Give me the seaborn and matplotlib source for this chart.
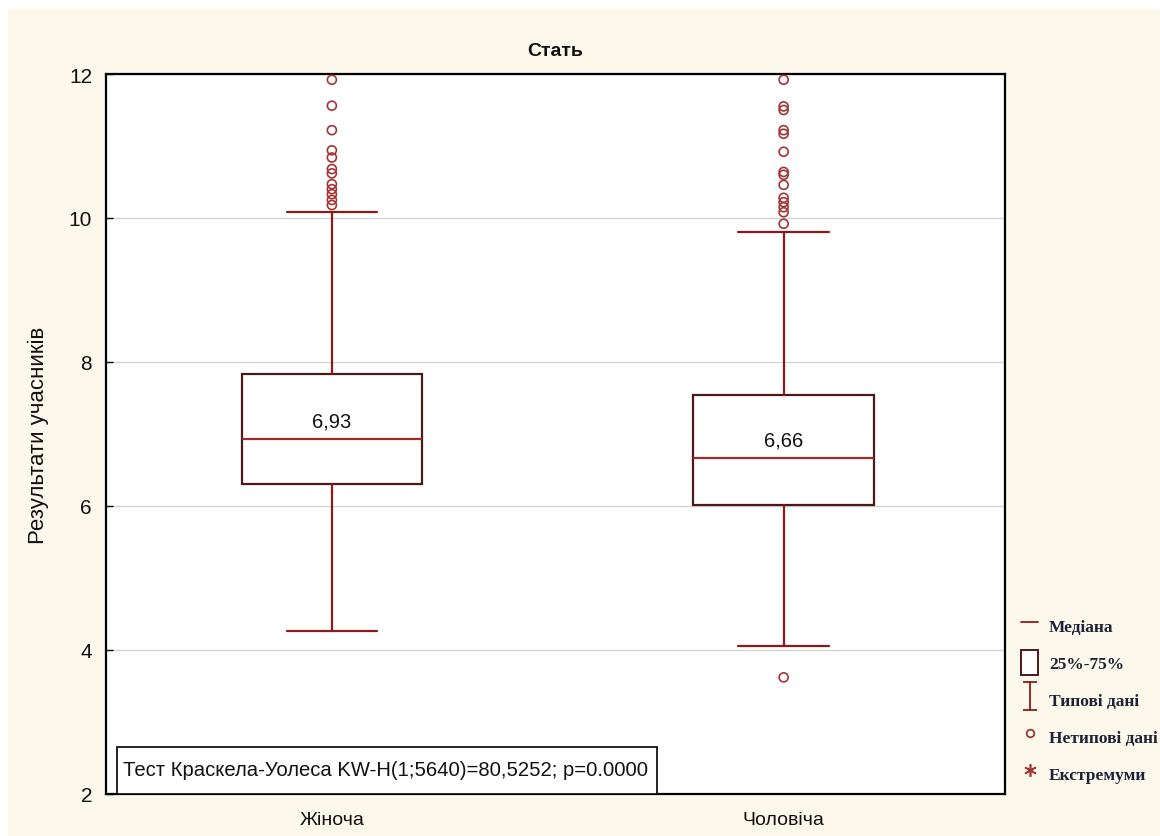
import numpy as np
import pandas as pd
import matplotlib
matplotlib.use('Agg')
import matplotlib.pyplot as plt
from matplotlib.lines import Line2D
from matplotlib.patches import Patch, Rectangle
from matplotlib.path import Path
import seaborn as sns

# ---------------- data ----------------
groups = ['Жіноча', 'Чоловіча']
q1 = [6.30, 6.01]
medians = [6.93, 6.66]
q3 = [7.83, 7.54]
whisker_low = [4.27, 4.05]
whisker_high = [10.08, 9.81]
outliers_f = [11.92, 11.56, 11.22, 10.94, 10.84, 10.68, 10.62, 10.47, 10.40, 10.33, 10.25, 10.18]
outliers_m = [11.92, 11.55, 11.50, 11.22, 11.17, 10.92, 10.64, 10.60, 10.46, 10.28, 10.22,
              10.15, 10.08, 9.92, 3.62]
yticks = [2, 4, 6, 8, 10, 12]
title = 'Стать'
ylabel = 'Результати учасників'
test_text = 'Тест Краскела-Уолеса KW-H(1;5640)=80,5252; p=0.0000'
legend_labels = ['Медіана', '25%-75%', 'Типові дані', 'Нетипові дані', 'Екстремуми']

# ---------------- style ----------------
CREAM = '#FDF8EC'
BOX_C = '#4d1818'
MED_C = '#9e2a2a'
WH_C = '#8b1a1a'
OUT_C = '#a33535'

sns.set_theme(style='white')
SANS = ['Liberation Sans', 'DejaVu Sans']
plt.rcParams['font.family'] = SANS

W, H = 1160, 837
fig = plt.figure(figsize=(W / 100, H / 100), dpi=100, facecolor='white')
fig.patches.append(Rectangle((8 / W, 0), 1, 1 - 10 / H, transform=fig.transFigure,
                             facecolor=CREAM, edgecolor='none', zorder=-10))
ax = fig.add_axes([106 / W, 1 - 795 / H, 899 / W, 720 / H])
ax.set_facecolor('white')

# outliers through seaborn
out_df = pd.DataFrame({
    'group': [groups[0]] * len(outliers_f) + [groups[1]] * len(outliers_m),
    'value': outliers_f + outliers_m,
})
sns.stripplot(data=out_df, x='group', y='value', order=groups, jitter=False,
              color=OUT_C, facecolor='none', edgecolor=OUT_C, linewidth=1.2,
              size=6.5, ax=ax, zorder=4)

# boxes from the summary statistics
stats = [dict(med=medians[i], q1=q1[i], q3=q3[i], whislo=whisker_low[i],
              whishi=whisker_high[i], fliers=[], label=groups[i]) for i in range(len(groups))]
ax.bxp(stats, positions=list(range(len(groups))), widths=0.4, showfliers=False,
       manage_ticks=False, patch_artist=True, capwidths=0.2,
       boxprops=dict(facecolor='white', edgecolor=BOX_C, linewidth=1.6),
       medianprops=dict(color=MED_C, linewidth=1.6),
       whiskerprops=dict(color=WH_C, linewidth=1.6),
       capprops=dict(color=WH_C, linewidth=1.6))

for i, m in enumerate(medians):
    ax.annotate(f"{m:.2f}".replace('.', ','), xy=(i, m), xytext=(0, 9),
                textcoords='offset points', ha='center', va='baseline',
                fontsize=14.5, color='#111111')

ax.set_xlim(-0.5, 1.49)
ax.set_ylim(2, 12)
ax.set_yticks(yticks)
ax.set_yticklabels([str(t) for t in yticks])
ax.yaxis.grid(True, color='#d4d4d4', linewidth=1.0)
ax.xaxis.grid(False)
ax.set_axisbelow(True)
for s in ax.spines.values():
    s.set_visible(True)
    s.set_color('black')
    s.set_linewidth(1.6)
ax.tick_params(axis='y', direction='in', length=5, width=1, color='black', left=True,
               pad=10, labelsize=15, labelcolor='#111111')
ax.tick_params(axis='x', length=0, pad=12, labelsize=14, labelcolor='#111111')
ax.set_xlabel('')
ax.set_ylabel(ylabel, fontsize=16, labelpad=14, color='#111111')
ax.set_title(title, fontsize=14, fontweight='bold', pad=14, color='#111111')

# test statistic box
ax.add_patch(Rectangle((11 / 899, 0), 540 / 899, 47 / 720, transform=ax.transAxes,
                       facecolor='white', edgecolor='black', linewidth=1.2, zorder=5))
ax.text(17 / 899, 24 / 720, test_text, transform=ax.transAxes, ha='left', va='center',
        fontsize=14.6, color='#111111', zorder=6)

# legend
ibeam = Path([(-0.5, -1), (0.5, -1), (0, -1), (0, 1), (-0.5, 1), (0.5, 1)],
             [Path.MOVETO, Path.LINETO, Path.MOVETO, Path.LINETO, Path.MOVETO, Path.LINETO])
handles = [
    Line2D([], [], color=MED_C, linewidth=1.4),
    Patch(facecolor='white', edgecolor=BOX_C, linewidth=1.4),
    Line2D([], [], linestyle='none', marker=ibeam, markersize=20, color=WH_C,
           markeredgewidth=1.3),
    Line2D([], [], linestyle='none', marker='o', markersize=5.5, markerfacecolor='none',
           markeredgecolor=OUT_C, markeredgewidth=1.3),
    Line2D([], [], linestyle='none', marker=(6, 2, 0), markersize=9, color=OUT_C,
           markeredgewidth=1.2),
]
leg = fig.legend(handles, legend_labels, loc='upper left',
                 bbox_to_anchor=(1021 / W, 1 - 614 / H), frameon=False,
                 handlelength=1.0, handleheight=1.8, labelspacing=0.72,
                 handletextpad=0.6, borderpad=0, borderaxespad=0,
                 prop=dict(family=['Liberation Serif', 'DejaVu Serif'], weight='bold', size=12.5))
for t in leg.get_texts():
    t.set_color('#1e2235')

fig.savefig('out.png', dpi=100, facecolor=fig.get_facecolor())
